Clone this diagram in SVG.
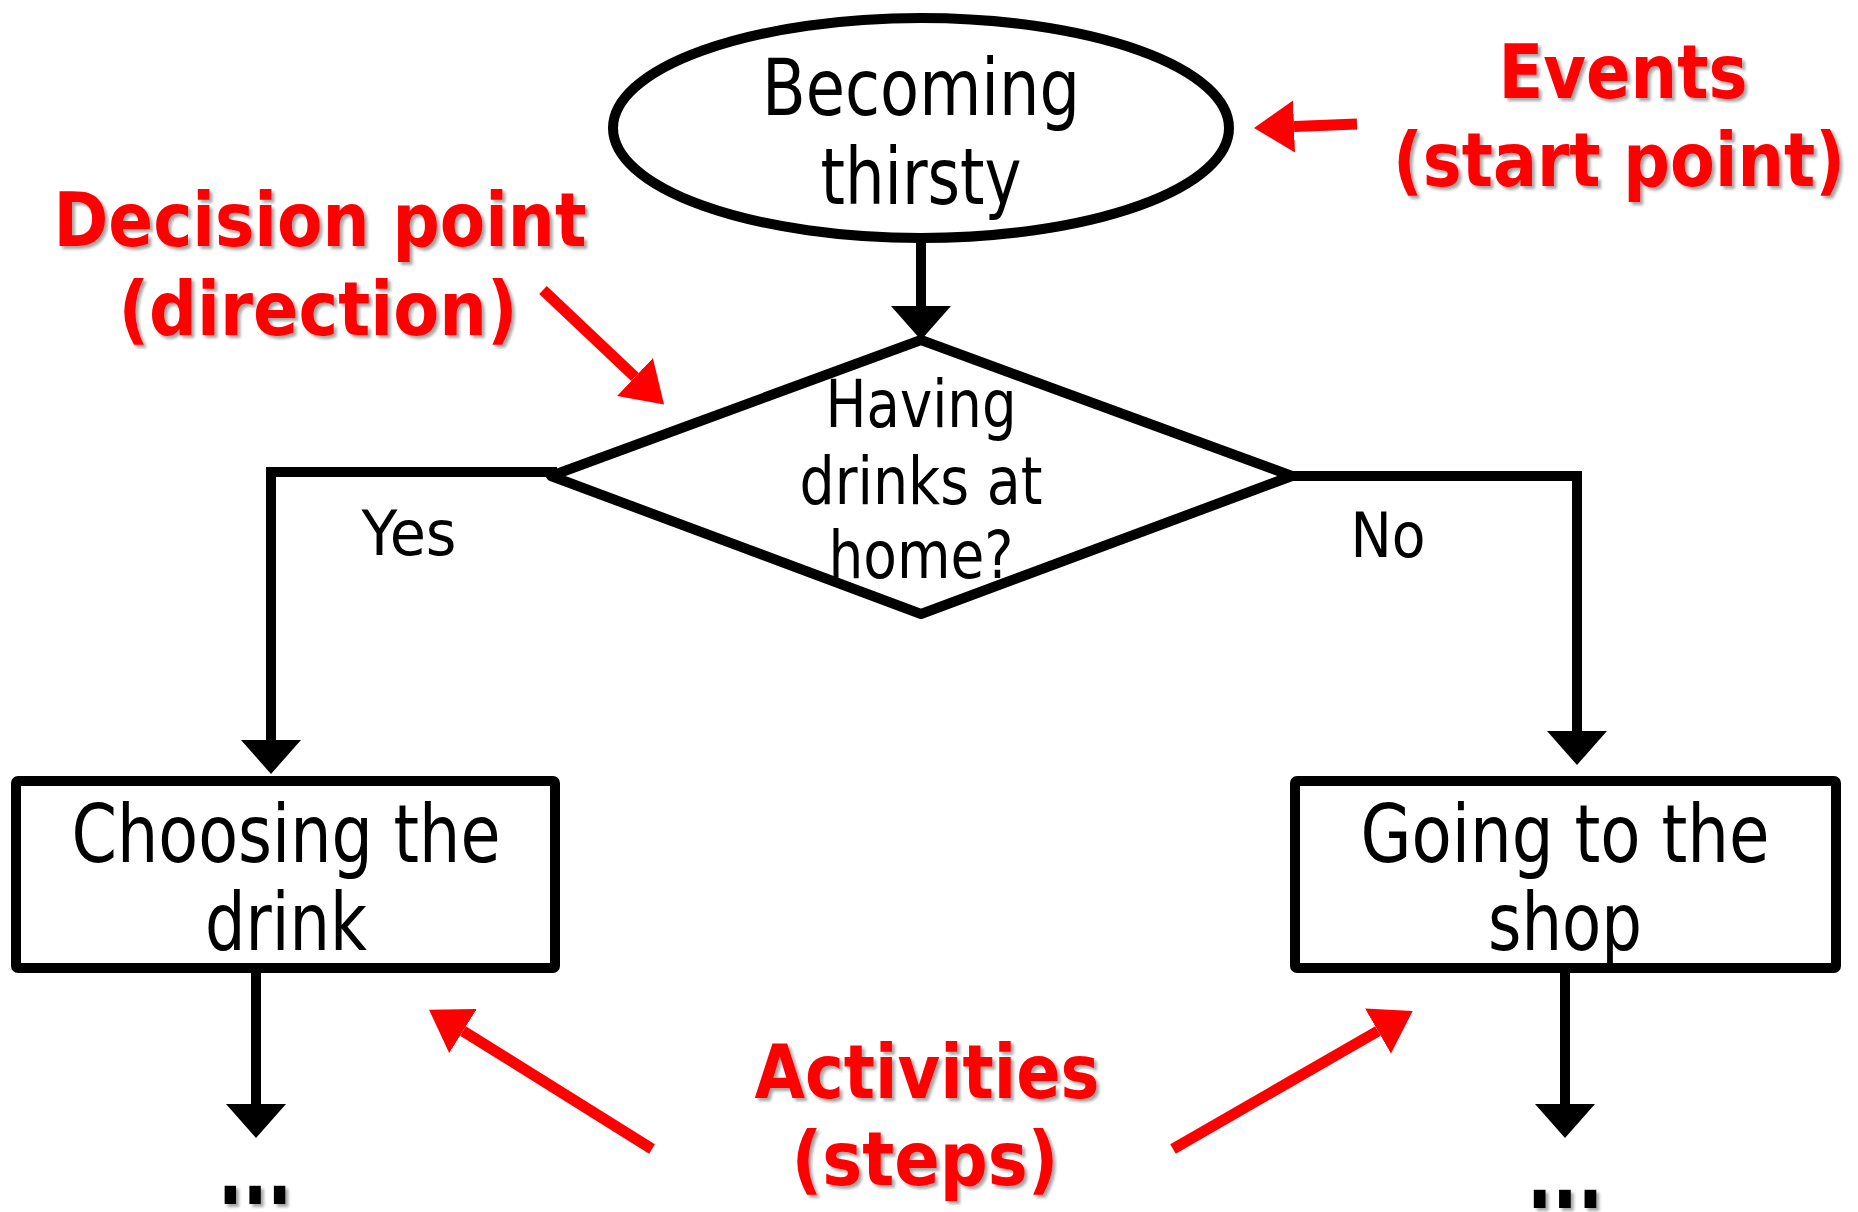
<svg xmlns="http://www.w3.org/2000/svg" width="1858" height="1212" viewBox="0 0 1858 1212">
  <style>
    .shape { fill: #fff; stroke: #000; stroke-width: 10; }
    .flow { fill: none; stroke: #000; stroke-width: 10; }
    .note-line { fill: none; stroke: #f00; stroke-width: 11; }
    .lbl { font-family: "DejaVu Sans", "Liberation Sans", sans-serif; fill: #000; text-anchor: middle; }
    .note { font-family: "DejaVu Sans", "Liberation Sans", sans-serif; font-weight: bold; fill: #f00; text-anchor: middle; font-size: 74px; filter: url(#shadow); }
    .more { font-family: "DejaVu Sans", "Liberation Sans", sans-serif; font-weight: bold; fill: #000; text-anchor: middle; font-size: 96px; filter: url(#shadow); }
  </style>
  <defs>
    <filter id="shadow" x="-10%" y="-20%" width="120%" height="150%">
      <feDropShadow dx="3" dy="3" stdDeviation="1.5" flood-color="#000" flood-opacity="0.35"/>
    </filter>
    <marker id="head" markerUnits="userSpaceOnUse" viewBox="0 0 34 60" refX="0" refY="30" markerWidth="34" markerHeight="60" orient="auto">
      <path d="M0,0 L34,30 L0,60 z" fill="#000"/>
    </marker>
    <marker id="red-head" markerUnits="userSpaceOnUse" viewBox="0 0 40 52" refX="0" refY="26" markerWidth="40" markerHeight="52" orient="auto">
      <path d="M0,0 L40,26 L0,52 z" fill="#f00"/>
    </marker>
  </defs>

  <rect width="1858" height="1212" fill="#fff"/>

  <!-- flow connectors -->
  <g id="connectors">
    <path class="flow" d="M921,238 V306" marker-end="url(#head)"/>
    <path class="flow" d="M557,472 H271 V740" marker-end="url(#head)"/>
    <path class="flow" d="M1292,476 H1577 V731" marker-end="url(#head)"/>
    <path class="flow" d="M256,973 V1104" marker-end="url(#head)"/>
    <path class="flow" d="M1565,973 V1104" marker-end="url(#head)"/>
  </g>

  <!-- start event -->
  <g id="start">
    <ellipse class="shape" cx="921" cy="128" rx="308" ry="110"/>
    <text class="lbl" font-size="78" x="921" y="115" textLength="318" lengthAdjust="spacingAndGlyphs">Becoming</text>
    <text class="lbl" font-size="78" x="921" y="204" textLength="201" lengthAdjust="spacingAndGlyphs">thirsty</text>
  </g>

  <!-- decision -->
  <g id="decision">
    <polygon class="shape" points="921,340 1292,476 921,614 551,476" stroke-linejoin="round"/>
    <text class="lbl" font-size="65" x="921" y="427" textLength="191" lengthAdjust="spacingAndGlyphs">Having</text>
    <text class="lbl" font-size="65" x="921" y="504" textLength="243" lengthAdjust="spacingAndGlyphs">drinks at</text>
    <text class="lbl" font-size="65" x="921" y="578" textLength="185" lengthAdjust="spacingAndGlyphs">home?</text>
  </g>

  <!-- branch labels -->
  <g id="branch-labels">
    <text class="lbl" font-size="62" x="409" y="555" textLength="95" lengthAdjust="spacingAndGlyphs">Yes</text>
    <text class="lbl" font-size="62" x="1388" y="557" textLength="75" lengthAdjust="spacingAndGlyphs">No</text>
  </g>

  <!-- activities -->
  <g id="choose">
    <rect class="shape" x="16" y="781" width="539" height="187" rx="2"/>
    <text class="lbl" font-size="80" x="286" y="862" textLength="429" lengthAdjust="spacingAndGlyphs">Choosing the</text>
    <text class="lbl" font-size="80" x="286" y="950" textLength="162" lengthAdjust="spacingAndGlyphs">drink</text>
  </g>
  <g id="shop">
    <rect class="shape" x="1295" y="781" width="541" height="187" rx="2"/>
    <text class="lbl" font-size="80" x="1565" y="862" textLength="409" lengthAdjust="spacingAndGlyphs">Going to the</text>
    <text class="lbl" font-size="80" x="1565" y="950" textLength="154" lengthAdjust="spacingAndGlyphs">shop</text>
  </g>

  <!-- continuation marks -->
  <g id="more">
    <text class="more" x="255" y="1204" textLength="74" lengthAdjust="spacingAndGlyphs">...</text>
    <text class="more" x="1565" y="1208" textLength="76" lengthAdjust="spacingAndGlyphs">...</text>
  </g>

  <!-- annotations -->
  <g id="note-events">
    <text class="note" x="1623" y="98" textLength="249" lengthAdjust="spacingAndGlyphs">Events</text>
    <text class="note" x="1619" y="186" textLength="452" lengthAdjust="spacingAndGlyphs">(start point)</text>
  </g>
  <g id="note-decision">
    <text class="note" x="320" y="246" textLength="533" lengthAdjust="spacingAndGlyphs">Decision point</text>
    <text class="note" x="318" y="335" textLength="399" lengthAdjust="spacingAndGlyphs">(direction)</text>
  </g>
  <g id="note-activities">
    <text class="note" x="927" y="1098" textLength="345" lengthAdjust="spacingAndGlyphs">Activities</text>
    <text class="note" x="925" y="1185" textLength="267" lengthAdjust="spacingAndGlyphs">(steps)</text>
  </g>

  <!-- annotation pointers -->
  <g id="note-pointers">
    <path class="note-line" d="M1357,124 L1294,126.4" marker-end="url(#red-head)"/>
    <path class="note-line" d="M543,290 L635,377" marker-end="url(#red-head)"/>
    <path class="note-line" d="M652,1149 L463,1031" marker-end="url(#red-head)"/>
    <path class="note-line" d="M1173,1149 L1378,1031" marker-end="url(#red-head)"/>
  </g>
</svg>
